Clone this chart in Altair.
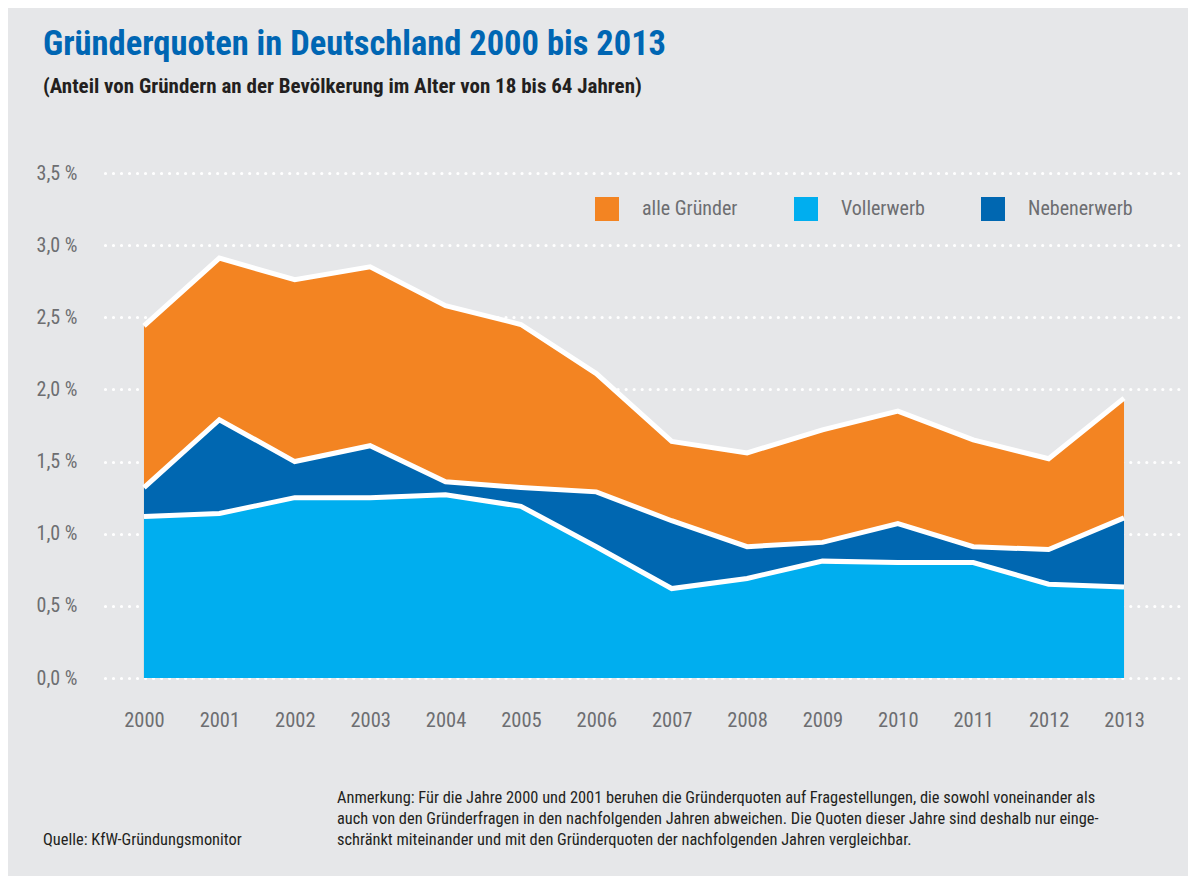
import altair as alt
import pandas as pd

# ---- data ----
years = list(range(2000, 2014))
alle_gruender = [2.44, 2.91, 2.76, 2.85, 2.58, 2.45, 2.11, 1.64, 1.56, 1.72, 1.85, 1.65, 1.52, 1.94]
nebenerwerb = [1.32, 1.79, 1.50, 1.61, 1.36, 1.32, 1.29, 1.09, 0.91, 0.94, 1.07, 0.91, 0.89, 1.11]
vollerwerb = [1.12, 1.14, 1.25, 1.25, 1.27, 1.19, 0.91, 0.62, 0.69, 0.81, 0.80, 0.80, 0.65, 0.63]

series_names = ["alle Gründer", "Vollerwerb", "Nebenerwerb"]
series_colors = ["#f38422", "#00aeef", "#0067b1"]
y_ticks = [0.0, 0.5, 1.0, 1.5, 2.0, 2.5, 3.0, 3.5]

title_text = "Gründerquoten in Deutschland 2000 bis 2013"
subtitle_text = "(Anteil von Gründern an der Bevölkerung im Alter von 18 bis 64 Jahren)"
source_text = "Quelle: KfW-Gründungsmonitor"
note_lines = [
    "Anmerkung: Für die Jahre 2000 und 2001 beruhen die Gründerquoten auf Fragestellungen, die sowohl voneinander als",
    "auch von den Gründerfragen in den nachfolgenden Jahren abweichen. Die Quoten dieser Jahre sind deshalb nur einge-",
    "schränkt miteinander und mit den Gründerquoten der nachfolgenden Jahren vergleichbar.",
]

FONT = "Liberation Sans Narrow, Roboto Condensed, Arial Narrow, Roboto, sans-serif"
GRAY = "#6d6e71"

rows = []
for name, vals in zip(series_names, [alle_gruender, vollerwerb, nebenerwerb]):
    for yr, v in zip(years, vals):
        rows.append({"Jahr": yr, "Reihe": name, "Wert": v})
df = pd.DataFrame(rows)

x = alt.X(
    "Jahr:Q",
    scale=alt.Scale(domain=[1999.483, 2013.809], nice=False, zero=False),
    axis=alt.Axis(values=years, format="d", grid=False, domain=False, ticks=False,
                  labelPadding=32, labelFontSize=20.5, labelColor=GRAY, labelFont=FONT,
                  labelFlush=False),
    title=None,
)
y = alt.Y(
    "Wert:Q",
    scale=alt.Scale(domain=[0, 3.5], nice=False),
    axis=alt.Axis(values=y_ticks, grid=True, domain=False, ticks=False,
                  labelExpr="replace(format(datum.value, '.1f'), '.', ',') + ' %'",
                  labelPadding=28, labelFontSize=20, labelColor=GRAY, labelFont=FONT,
                  gridColor="white", gridDash=[0.01, 8], gridCap="round", gridWidth=3.2,
                  gridOpacity=1),
    title=None,
)
color = alt.Color(
    "Reihe:N",
    scale=alt.Scale(domain=series_names, range=series_colors),
    legend=alt.Legend(orient="none", legendX=490, legendY=24, direction="horizontal",
                      title=None, symbolType="square", symbolSize=576,
                      symbolStrokeWidth=0, symbolOpacity=1, labelFontSize=20,
                      labelColor=GRAY, labelFont=FONT, labelOffset=23,
                      columnPadding=56),
)

base = alt.Chart(df)


def area(name):
    return base.transform_filter(alt.datum.Reihe == name).mark_area(opacity=1).encode(
        x=x, y=y, color=color)


def line(name):
    return base.transform_filter(alt.datum.Reihe == name).mark_line(
        color="white", strokeWidth=5, strokeJoin="miter").encode(x=x, y=y)


source_df = pd.DataFrame({"t": [source_text]})
note_df = pd.DataFrame({"t": ["\n".join(note_lines)]})

source_layer = alt.Chart(source_df).mark_text(
    align="left", baseline="alphabetic", fontSize=16.4, font=FONT, color="#231f20"
).encode(x=alt.value(-62), y=alt.value(672), text="t:N")

note_layer = alt.Chart(note_df).mark_text(
    align="left", baseline="alphabetic", fontSize=16.4, font=FONT, color="#231f20",
    lineBreak="\n", lineHeight=21
).encode(x=alt.value(232), y=alt.value(630), text="t:N")

chart = alt.layer(
    area("alle Gründer"),
    area("Nebenerwerb"),
    area("Vollerwerb"),
    line("alle Gründer"),
    line("Nebenerwerb"),
    line("Vollerwerb"),
    source_layer,
    note_layer,
).properties(
    width=1080,
    height=505,
    title=alt.TitleParams(
        text=title_text, subtitle=subtitle_text, anchor="start", frame="group",
        dx=-62, offset=65, font=FONT, fontSize=34.5, fontWeight="bold", color="#0066b3",
        subtitleFont=FONT, subtitleFontSize=21, subtitleFontWeight="bold",
        subtitleColor="#231f20", subtitlePadding=14,
    ),
    background="#e6e7e9",
    padding={"left": 97, "top": 165, "right": 3, "bottom": 198},
    autosize=alt.AutoSizeParams(type="none"),
).configure_view(stroke=None)

chart.save("out.html", embed_options={"renderer": "svg", "actions": False})
